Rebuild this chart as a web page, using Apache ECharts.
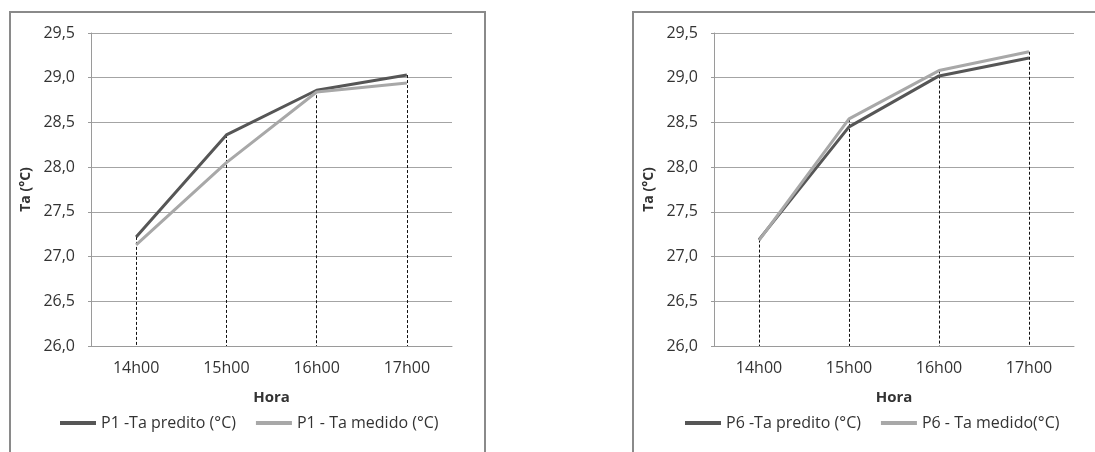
<!DOCTYPE html>
<html><head><meta charset="utf-8">
<script src="https://cdn.jsdelivr.net/npm/echarts@6/dist/echarts.min.js"></script>
<style>html,body{margin:0;padding:0;background:#fff}#c{width:1095px;height:452px}</style>
</head><body><div id="c"></div>
<script>
const categories = ['14h00','15h00','16h00','17h00'];
const p1Predito = [27.22, 28.36, 28.86, 29.03];
const p1Medido  = [27.13, 28.05, 28.84, 28.94];
const p6Predito = [27.19, 28.45, 29.02, 29.22];
const p6Medido  = [27.18, 28.54, 29.08, 29.29];
const seriesNames = ['P1 -Ta predito (°C)','P1 - Ta medido (°C)','P6 -Ta predito (°C)','P6 - Ta medido(°C)'];
const yMin = 26, yMax = 29.5, yStep = 0.5;

const FONT = 'Open Sans';
const TXT = '#333';
const dark = '#565656', light = '#a8a8a8';
const FS = 16;

function yAxis(gi){
  return {
    type:'value', gridIndex:gi, min:yMin, max:yMax, interval:yStep,
    name:'Ta (°C)', nameLocation:'middle', nameGap:58, nameRotate:90,
    nameTextStyle:{fontFamily:FONT, fontWeight:'bold', fontSize:14, color:TXT},
    axisLine:{show:true, lineStyle:{color:'#9a9a9a', width:1}},
    axisTick:{show:true, length:3, lineStyle:{color:'#9a9a9a'}},
    splitLine:{show:true, lineStyle:{color:'#a4a4a4', width:1}},
    axisLabel:{fontFamily:FONT, fontSize:FS, color:TXT, margin:16,
      formatter:v=>v.toFixed(1).replace('.',',')}
  };
}
function xAxis(gi){
  return {
    type:'category', gridIndex:gi, data:categories, boundaryGap:true,
    name:'Hora', nameLocation:'middle', nameGap:44,
    nameTextStyle:{fontFamily:FONT, fontWeight:'bold', fontSize:15, color:TXT},
    axisLine:{show:true, lineStyle:{color:'#9a9a9a'}},
    axisTick:{show:false},
    axisLabel:{fontFamily:FONT, fontSize:FS, color:TXT, margin:14}
  };
}
function drop(a,b){
  return a.map((v,i)=>[{coord:[i, Math.max(v,b[i])]},{coord:[i, yMin]}]);
}
function line(name, data, color, gi, mark){
  const s = {name, type:'line', xAxisIndex:gi, yAxisIndex:gi, data, symbol:'none',
    lineStyle:{color, width:3}, itemStyle:{color}, z: color===dark?3:4, animation:false};
  if(mark){
    s.markLine = {silent:true, symbol:['none','none'], label:{show:false},
      lineStyle:{type:[3,2], color:'#111', width:1}, data:mark, z:1};
  }
  return s;
}
const legendStyle = {icon:'rect', itemWidth:36, itemHeight:4, itemGap:20, padding:0,
  textStyle:{fontFamily:FONT, fontSize:FS, color:TXT}};

const chart = echarts.init(document.getElementById('c'), null, {renderer:'canvas'});
chart.setOption({
  animation:false,
  backgroundColor:'#fff',
  graphic:[
    {type:'rect', shape:{x:10,y:12,width:475,height:460}, style:{fill:'none', stroke:'#8a8a8a', lineWidth:2}, silent:true},
    {type:'rect', shape:{x:633,y:12,width:480,height:460}, style:{fill:'none', stroke:'#8a8a8a', lineWidth:2}, silent:true}
  ],
  grid:[
    {left:91, right:1095-452, top:33, bottom:452-346},
    {left:714, right:1095-1074, top:33, bottom:452-346}
  ],
  xAxis:[xAxis(0), xAxis(1)],
  yAxis:[yAxis(0), yAxis(1)],
  legend:[
    Object.assign({data:[seriesNames[0],seriesNames[1]], left:60, top:415}, legendStyle),
    Object.assign({data:[seriesNames[2],seriesNames[3]], left:685, top:415}, legendStyle)
  ],
  series:[
    line(seriesNames[0], p1Predito, dark, 0, drop(p1Predito,p1Medido)),
    line(seriesNames[1], p1Medido, light, 0),
    line(seriesNames[2], p6Predito, dark, 1, drop(p6Predito,p6Medido)),
    line(seriesNames[3], p6Medido, light, 1)
  ]
});
</script></body></html>
